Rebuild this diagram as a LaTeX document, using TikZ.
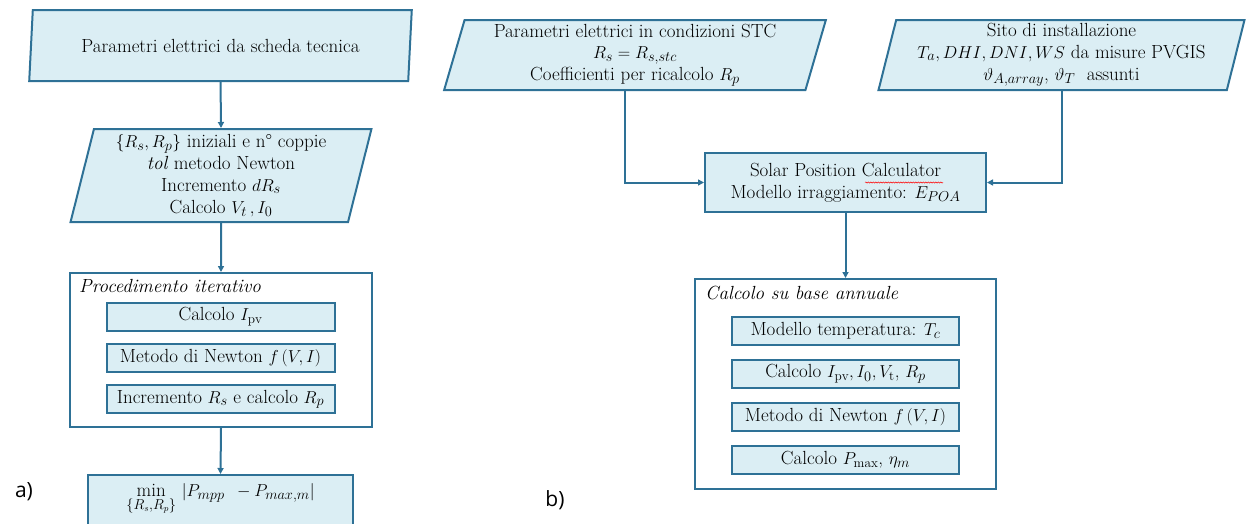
\documentclass[tikz,border=0pt]{standalone}
\usepackage{fontspec}
\newfontfamily\labfont{Open Sans}
\usetikzlibrary{shapes.geometric,arrows.meta,calc,decorations.pathmorphing}
\definecolor{edge}{HTML}{2E7196}
\definecolor{boxfill}{HTML}{DBEEF4}
\tikzset{
  txt/.style={font=\fontsize{19}{21.8}\selectfont, text=black, align=center},
  para/.style={txt, trapezium, trapezium stretches=true, draw=edge, fill=boxfill, line width=2pt, inner sep=0pt},
  stepbox/.style={txt, rectangle, draw=edge, fill=boxfill, line width=2pt, inner sep=0pt},
  frame/.style={rectangle, draw=edge, line width=2pt, inner sep=0pt},
  flow/.style={draw=edge, line width=2pt, -{Triangle[length=6pt,width=6pt]}},
  lab/.style={font=\labfont\fontsize{21}{24}\selectfont, text=black},
  ttl/.style={txt, font=\fontsize{19}{21.8}\selectfont\itshape, anchor=west, inner sep=0pt}
}
\begin{document}
\begin{tikzpicture}[x=1pt,y=-1pt]
\useasboundingbox (0,0) rectangle (1246,523);
\clip (0,0) rectangle (1246,523);
% ---------- a) ----------
\node[para, trapezium left angle=78.8, trapezium right angle=101.2, minimum width=383, minimum height=71] (p1) at (220.5,45.5) {Parametri elettrici da scheda tecnica};
\node[para, trapezium left angle=76.7, trapezium right angle=103.3, minimum width=302, minimum height=93] (p2) at (221,175.5)
  {$\{R_s,R_p\}$ iniziali e n\textdegree{} coppie\\ \textit{tol} metodo Newton\\ Incremento $dR_s$\\ Calcolo $V_t\,, I_0$};
\node[frame, minimum width=302, minimum height=154] (itA) at (221,350) {};
\node[ttl] (itAt) at (79,286) {Procedimento iterativo};
\node[stepbox, minimum width=228, minimum height=28] (a1) at (220.5,316.7) {Calcolo $I_{\mathrm{pv}}$};
\node[stepbox, minimum width=228, minimum height=28] (a2) at (220.5,358.2) {Metodo di Newton $f\,(V,I)$};
\node[stepbox, minimum width=228, minimum height=28] (a3) at (220.5,399.3) {Incremento $R_s$ e calcolo $R_p$};
\node[stepbox, minimum width=265, minimum height=66] (minbox) at (220.5,508) {};
\node[txt, inner sep=0pt] (minlbl) at (220.5,499) {$\displaystyle\min_{\{R_s,R_p\}}\,|P_{mpp}\ \,- P_{max,m}|$};
\node[lab] (la) at (24,492) {a)};
\draw[flow] (p1.south) -- (p2.north);
\draw[flow] (p2.south) -- (itA.north);
\draw[flow] (itA.south) -- (minbox.north);
% ---------- b) ----------
\node[para, trapezium left angle=74.8, trapezium right angle=105.2, minimum width=382, minimum height=70] (p3) at (635,55)
  {Parametri elettrici in condizioni STC\\ $R_s = R_{s,stc}$\\ Coefficienti per ricalcolo $R_p$};
\node[para, trapezium left angle=76.4, trapezium right angle=103.6, minimum width=367, minimum height=70] (p4) at (1061.5,55)
  {Sito di installazione\\ $T_a, DHI, DNI, WS$ da misure PVGIS\\ $\vartheta_{A,array}$, $\vartheta_T$\ \ assunti};
\node[stepbox, minimum width=281, minimum height=59] (solar) at (845.5,182.5)
  {Solar Position Calculator\\ Modello irraggiamento: $E_{POA}$};
\node[frame, minimum width=301, minimum height=210] (anB) at (845.5,384) {};
\node[ttl] (anBt) at (705,293) {Calcolo su base annuale};
\node[stepbox, minimum width=227, minimum height=28] (b1) at (845.5,331) {Modello temperatura: $T_c$};
\node[stepbox, minimum width=227, minimum height=28] (b2) at (845.5,374) {Calcolo $I_{\mathrm{pv}}, I_0, V_{\mathrm{t}}$, $R_p$};
\node[stepbox, minimum width=227, minimum height=28] (b3) at (845.5,417) {Metodo di Newton $f\,(V,I)$};
\node[stepbox, minimum width=227, minimum height=28] (b4) at (845.5,460) {Calcolo $P_{\max}$, $\eta_m$};
\node[lab] (lb) at (555,500) {b)};
\coordinate (p3b) at ($(p3.bottom left corner)!0.5!(p3.bottom right corner)$);
\draw[flow] (p3b) |- (solar.west);
\draw[flow] (p4.south) |- (solar.east);
\draw[flow] (solar.south) -- (anB.north);
\draw[red, line width=0.5pt, decorate, decoration={snake, amplitude=0.6pt, segment length=2.5pt}] (865,182.5) -- (943,182.5);
\end{tikzpicture}
\end{document}
